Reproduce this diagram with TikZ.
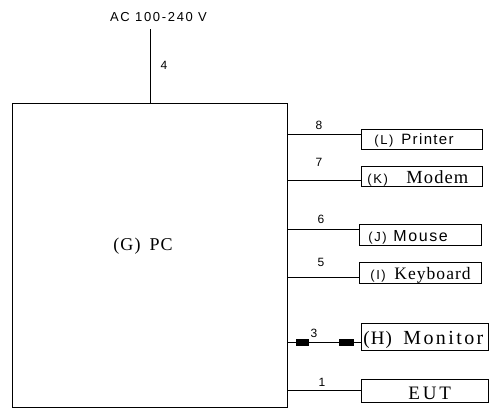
\documentclass[tikz,border=0pt]{standalone}
\usepackage{fontspec}
\setmainfont{Liberation Serif}
\newfontfamily\fsans[LetterSpace=9]{Liberation Sans}
\newfontfamily\fsansw[LetterSpace=10]{Liberation Sans}
\newfontfamily\fpre[LetterSpace=12]{Liberation Sans}
\newfontfamily\fac[LetterSpace=13]{Liberation Sans}
\newfontfamily\fserif[LetterSpace=6]{Liberation Serif}
\newfontfamily\fserifm[LetterSpace=12]{Liberation Serif}
\newfontfamily\fserifw[LetterSpace=15]{Liberation Serif}
\newfontfamily\fnum{Liberation Sans}
\begin{document}
\begin{tikzpicture}[x=1pt,y=-1pt,line width=0.8pt,
  box/.style={draw,rectangle,inner sep=0pt,anchor=north west},
  conn/.style={draw,fill=black,rectangle,inner sep=0pt,minimum width=12pt,minimum height=6pt},
  txt/.style={inner sep=0pt,anchor=base west},
  num/.style={inner sep=0pt,font=\fnum\fontsize{12}{14}\selectfont},
  pre/.style={inner sep=0pt,anchor=base west,font=\fpre\fontsize{13}{15}\selectfont},
  sanslab/.style={inner sep=0pt,anchor=base west,font=\fsans\fontsize{15}{17}\selectfont},
  seriflab/.style={inner sep=0pt,anchor=base west,font=\fserif\fontsize{18}{20}\selectfont}
]
\useasboundingbox (0,0) rectangle (489,410);

% main PC box
\node[box,minimum width=275pt,minimum height=304pt] (pc) at (12,103) {};
\node[txt,font=\fserif\fontsize{18}{20}\selectfont] (pct) at (113,250) {(G)\hspace{9pt}PC};

% power
\coordinate (acend) at (150,29);
\draw (acend) -- (acend |- pc.north);
\node[inner sep=0pt,anchor=base,font=\fac\fontsize{13}{15}\selectfont] (ac) at (158.5,21) {AC 100-240 V};
\node[num] (n4) at (164,65) {4};

% peripheral boxes
\node[box,minimum width=121pt,minimum height=20pt] (printer) at (361,129) {};
\node[box,minimum width=121pt,minimum height=20pt] (modem) at (361,166) {};
\node[box,minimum width=122pt,minimum height=21pt] (mouse) at (359,224) {};
\node[box,minimum width=122pt,minimum height=21pt] (keyb) at (359,262) {};
\node[box,minimum width=127pt,minimum height=27pt] (monitor) at (361,323) {};
\node[box,minimum width=127pt,minimum height=23pt] (eut) at (361,379) {};

% box texts
\node[pre] (tl) at (374,144.5) {(L)};
\node[sanslab] (tprinter) at (401,144.5) {Printer};
\node[pre] (tk) at (367,183) {(K)};
\node[seriflab,font=\fserif\fontsize{18.5}{20}\selectfont] (tmodem) at (406,183) {Modem};
\node[pre] (tj) at (368,241) {(J)};
\node[sanslab,font=\fsansw\fontsize{16}{18}\selectfont] (tmouse) at (393,241) {Mouse};
\node[pre] (ti) at (370,279) {(I)};
\node[seriflab,font=\fserif\fontsize{17.5}{19}\selectfont] (tkeyb) at (394,279) {Keyboard};
\node[txt,font=\fserif\fontsize{19}{21}\selectfont] (th) at (363,344) {(H)};
\node[txt,font=\fserifm\fontsize{20}{22}\selectfont] (tmonitor) at (403,344) {Monitor};
\node[txt,font=\fserifw\fontsize{19}{21}\selectfont] (teut) at (408,399) {EUT};

% connection lines
\coordinate (c8) at (287,134);
\coordinate (c7) at (287,180);
\coordinate (c6) at (287,229);
\coordinate (c5) at (287,277);
\coordinate (c3) at (287,342);
\coordinate (c1) at (287,390);
\draw (c8) -- (c8 -| printer.west);
\draw (c7) -- (c7 -| modem.west);
\draw (c6) -- (c6 -| mouse.west);
\draw (c5) -- (c5 -| keyb.west);
\draw (c3) -- (c3 -| monitor.west);
\draw (c1) -- (c1 -| eut.west);
\node[conn] (k1) at (302,342) {};
\node[conn,minimum width=14pt] (k2) at (346,342) {};

% numbers
\node[num] (n8) at (319,125) {8};
\node[num] (n7) at (319,162) {7};
\node[num] (n6) at (321,219) {6};
\node[num] (n5) at (321,262) {5};
\node[num] (n3) at (314,333) {3};
\node[num] (n1) at (322,382) {1};
\end{tikzpicture}
\end{document}
